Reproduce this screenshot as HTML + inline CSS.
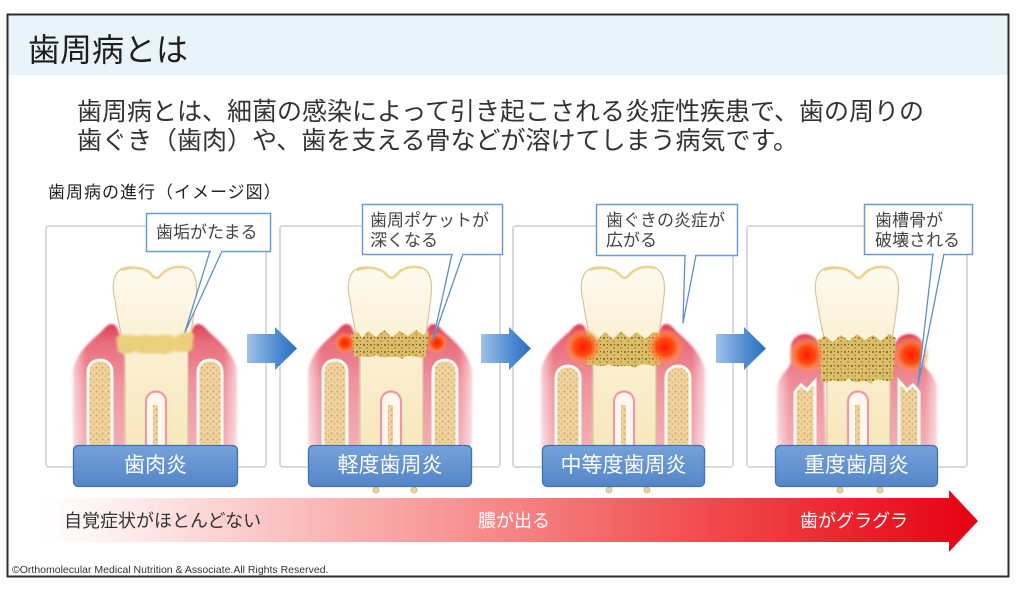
<!DOCTYPE html>
<html><head><meta charset="utf-8">
<style>
html,body{margin:0;padding:0;background:#fff;}
body{width:1024px;height:592px;position:relative;overflow:hidden;font-family:"Liberation Sans","Noto Sans CJK JP",sans-serif;}
.t{position:absolute;white-space:nowrap;font-family:"Liberation Sans","Noto Sans CJK JP",sans-serif;}
svg{position:absolute;left:0;top:0;}
</style></head><body>
<svg width="1024" height="592" viewBox="0 0 1024 592" xmlns="http://www.w3.org/2000/svg">
<defs>
  <linearGradient id="toothG" x1="0" y1="0" x2="0" y2="1">
    <stop offset="0" stop-color="#fffaf0"/><stop offset="0.45" stop-color="#faefd0"/><stop offset="1" stop-color="#f7e5b6"/>
  </linearGradient>
  <linearGradient id="gumG" x1="0" y1="0" x2="0" y2="1">
    <stop offset="0" stop-color="#de3f55"/><stop offset="0.12" stop-color="#e86c7c"/><stop offset="0.4" stop-color="#ef949e"/><stop offset="1" stop-color="#f4b8be"/>
  </linearGradient>
  <linearGradient id="gumFade" x1="0" y1="0" x2="1" y2="0">
    <stop offset="0" stop-color="#fff" stop-opacity="0.6"/><stop offset="0.25" stop-color="#fff" stop-opacity="0"/>
  </linearGradient>
  <pattern id="speck" width="6" height="6" patternUnits="userSpaceOnUse">
    <rect width="6" height="6" fill="#eed3a0"/>
    <circle cx="1.5" cy="1.5" r="1" fill="#d7a560"/><circle cx="4.5" cy="4" r="0.9" fill="#dcae6c"/>
  </pattern>
  <pattern id="tartar" width="7" height="7" patternUnits="userSpaceOnUse">
    <rect width="7" height="7" fill="#dcbd68"/>
    <circle cx="2" cy="2" r="1.1" fill="#8e6f30"/><circle cx="5" cy="5" r="0.9" fill="#a4843e"/><circle cx="5.5" cy="1.5" r="0.6" fill="#6f5524"/>
  </pattern>
  <radialGradient id="glow">
    <stop offset="0" stop-color="#ff1a00"/><stop offset="0.45" stop-color="#ff4a10"/><stop offset="0.75" stop-color="#ff8a40" stop-opacity="0.6"/><stop offset="1" stop-color="#ff9a60" stop-opacity="0"/>
  </radialGradient>
  <linearGradient id="arrowB" x1="0" y1="0" x2="1" y2="0">
    <stop offset="0" stop-color="#9fc2e8"/><stop offset="0.6" stop-color="#4f8bd0"/><stop offset="1" stop-color="#2a6fc0"/>
  </linearGradient>
  <linearGradient id="labelG" x1="0" y1="0" x2="0" y2="1">
    <stop offset="0" stop-color="#74a2da"/><stop offset="1" stop-color="#5585c8"/>
  </linearGradient>
  <linearGradient id="redG" x1="40" y1="0" x2="978" y2="0" gradientUnits="userSpaceOnUse">
    <stop offset="0" stop-color="#ffffff"/><stop offset="0.06" stop-color="#fff4f4"/><stop offset="0.2" stop-color="#fcd0d0"/><stop offset="0.45" stop-color="#f79292"/><stop offset="0.7" stop-color="#f14e50"/><stop offset="1" stop-color="#e60012"/>
  </linearGradient>
  <filter id="soft" x="-20%" y="-20%" width="140%" height="140%"><feGaussianBlur stdDeviation="1.1"/></filter>
  <filter id="soft2" x="-50%" y="-50%" width="200%" height="200%"><feGaussianBlur stdDeviation="1.2"/></filter>

  <path id="tooth" d="M-40,300 C-44,284 -41,271 -31,268 C-22,265 -10,268 -4,274 C-1,278 2,280 5,276 C10,269 20,265 30,267 C39,269 43,280 41,296 C39,316 36,334 33,350 L33,470 L-30,470 L-30,350 C-34,334 -38,316 -40,300 Z"/>
  <path id="gumA" d="M-82,470 L-82,372 C-80,355 -66,342 -54,332 C-49,326 -44,321 -39,326 C-35,332 -32,345 -30,360 L-30,470 Z"/>
  <path id="gumD" d="M-80,470 L-80,388 C-78,374 -68,370 -66,362 L-66,346 C-64,332 -44,329 -38,344 L-33,380 L-30,470 Z"/>
  <path id="bone" d="M-67,470 L-67,372 C-67,356 -43,356 -43,372 L-43,470 Z"/>
  <path id="boneD" d="M-62,470 L-62,392 L-56,385 L-50,390 L-42,381 L-42,470 Z"/>
  <g id="pulp">
    <path d="M-9,470 L-9,402 C-9,388 11,388 11,402 L11,470 Z" fill="#fff7ee" stroke="#e99aa2" stroke-width="2.2"/>
    <rect x="-2" y="405" width="5" height="65" fill="url(#speck)"/>
  </g>
</defs>

<!-- outer frame -->
<rect x="8" y="15" width="1000" height="561" fill="#fff"/>
<rect x="8" y="15" width="1000" height="60" fill="#e8f4fa"/>
<rect x="7.5" y="14.5" width="1001" height="562" fill="none" stroke="#2e2e2e" stroke-width="2"/>

<!-- panels -->
<rect x="46" y="226" width="220" height="241" rx="3" fill="#fff" stroke="#d9d9d9" stroke-width="2"/>
<rect x="280" y="226" width="220" height="241" rx="3" fill="#fff" stroke="#d9d9d9" stroke-width="2"/>
<rect x="513" y="226" width="220" height="241" rx="3" fill="#fff" stroke="#d9d9d9" stroke-width="2"/>
<rect x="747" y="226" width="220" height="241" rx="3" fill="#fff" stroke="#d9d9d9" stroke-width="2"/>

<!-- blue arrows -->
<g fill="url(#arrowB)">
  <path d="M247,334 L275,334 L275,327 L297,348.5 L275,370 L275,363 L247,363 Z"/>
  <path d="M481,334 L509,334 L509,327 L531,348.5 L509,370 L509,363 L481,363 Z"/>
  <path d="M716,334 L744,334 L744,327 L766,348.5 L744,370 L744,363 L716,363 Z"/>
</g>

<!-- Panel 1 -->
<g transform="translate(155,0)">
  <g filter="url(#soft)">
    <use href="#gumA" fill="url(#gumG)"/>
    <use href="#gumA" fill="url(#gumFade)"/>
    <g transform="scale(-1,1)"><use href="#gumA" fill="url(#gumG)"/><use href="#gumA" fill="url(#gumFade)"/></g>
  </g>
  <use href="#bone" fill="url(#speck)" stroke="#fffaf2" stroke-width="3"/>
  <g transform="scale(-1,1)"><use href="#bone" fill="url(#speck)" stroke="#fffaf2" stroke-width="3"/></g>
  <use href="#tooth" fill="url(#toothG)" stroke="#d8c49c" stroke-width="1.2"/>
  <path d="M-33,270 C-20,266 -10,268 -4,274 C0,279 3,279 6,275 C12,268 22,265 32,268" fill="none" stroke="#ecd48c" stroke-width="2.5"/>
  <use href="#pulp"/>
  <path d="M-39,337 C-30,331 -20,339 -10,334 C0,339 10,331 20,337 C28,332 35,330 39,334 L37,350 C30,355 20,348 10,355 C0,350 -10,357 -20,351 C-28,356 -34,353 -37,352 Z" fill="#ebcf7c" filter="url(#soft2)"/>
</g>

<!-- Panel 2 -->
<g transform="translate(390,0)">
  <g filter="url(#soft)">
    <use href="#gumA" fill="url(#gumG)"/>
    <use href="#gumA" fill="url(#gumFade)"/>
    <g transform="scale(-1,1)"><use href="#gumA" fill="url(#gumG)"/><use href="#gumA" fill="url(#gumFade)"/></g>
  </g>
  <use href="#bone" fill="url(#speck)" stroke="#fffaf2" stroke-width="3"/>
  <g transform="scale(-1,1)"><use href="#bone" fill="url(#speck)" stroke="#fffaf2" stroke-width="3"/></g>
  <use href="#tooth" fill="url(#toothG)" stroke="#d8c49c" stroke-width="1.2"/>
  <path d="M-33,270 C-20,266 -10,268 -4,274 C0,279 3,279 6,275 C12,268 22,265 32,268" fill="none" stroke="#ecd48c" stroke-width="2.5"/>
  <use href="#pulp"/>
  <path d="M-39,334 L-32,332 L-28,338 L-22,331 L-14,337 L-6,330 L2,337 L10,331 L18,336 L26,330 L33,335 L39,331 L36,357 C28,360 20,352 12,359 C4,353 -6,361 -14,355 C-22,360 -30,354 -36,357 Z" fill="url(#tartar)"/>
  <circle cx="-45" cy="343" r="11" fill="url(#glow)"/>
  <circle cx="47" cy="343" r="11" fill="url(#glow)"/>
</g>

<!-- Panel 3 -->
<g transform="translate(623,0)">
  <g filter="url(#soft)">
    <use href="#gumA" fill="url(#gumG)"/>
    <use href="#gumA" fill="url(#gumFade)"/>
    <g transform="scale(-1,1)"><use href="#gumA" fill="url(#gumG)"/><use href="#gumA" fill="url(#gumFade)"/></g>
  </g>
  <use href="#bone" fill="url(#speck)" stroke="#fffaf2" stroke-width="3" transform="translate(0,6)"/>
  <g transform="scale(-1,1) translate(0,6)"><use href="#bone" fill="url(#speck)" stroke="#fffaf2" stroke-width="3"/></g>
  <use href="#tooth" fill="url(#toothG)" stroke="#d8c49c" stroke-width="1.2"/>
  <path d="M-33,270 C-20,266 -10,268 -4,274 C0,279 3,279 6,275 C12,268 22,265 32,268" fill="none" stroke="#ecd48c" stroke-width="2.5"/>
  <use href="#pulp"/>
  <path d="M-39,336 L-32,333 L-26,340 L-18,332 L-10,339 L-2,331 L6,338 L14,332 L22,339 L30,332 L39,335 L37,365 C28,368 20,360 12,368 C4,362 -6,370 -14,364 C-22,369 -30,362 -37,366 Z" fill="url(#tartar)"/>
  <circle cx="-40" cy="347" r="19" fill="url(#glow)"/>
  <circle cx="42" cy="347" r="19" fill="url(#glow)"/>
</g>

<!-- Panel 4 -->
<g transform="translate(857,0)">
  <g filter="url(#soft)">
    <use href="#gumD" fill="url(#gumG)"/>
    <use href="#gumD" fill="url(#gumFade)"/>
    <g transform="scale(-1,1)"><use href="#gumD" fill="url(#gumG)"/><use href="#gumD" fill="url(#gumFade)"/></g>
  </g>
  <use href="#boneD" fill="url(#speck)" stroke="#fffaf2" stroke-width="3"/>
  <g transform="scale(-1,1)"><use href="#boneD" fill="url(#speck)" stroke="#fffaf2" stroke-width="3"/></g>
  <use href="#tooth" fill="url(#toothG)" stroke="#d8c49c" stroke-width="1.2"/>
  <path d="M-33,270 C-20,266 -10,268 -4,274 C0,279 3,279 6,275 C12,268 22,265 32,268" fill="none" stroke="#ecd48c" stroke-width="2.5"/>
  <use href="#pulp"/>
  <path d="M-39,340 L-32,336 L-24,342 L-16,335 L-8,341 L0,334 L8,340 L16,335 L24,341 L32,334 L39,338 L36,380 C28,384 20,374 14,384 C6,376 0,388 -8,378 C-16,386 -24,376 -30,383 L-36,380 Z" fill="url(#tartar)"/>
  <circle cx="-50" cy="355" r="19" fill="url(#glow)"/>
  <circle cx="54" cy="355" r="19" fill="url(#glow)"/>
</g>

<!-- root tips below labels -->
<g fill="#ead3a2" stroke="#cdb27a" stroke-width="0.8">
  <circle cx="376" cy="490" r="3"/><circle cx="414" cy="490" r="3"/>
  <circle cx="609" cy="490" r="3"/><circle cx="647" cy="490" r="3"/>
  <circle cx="840" cy="490" r="3"/><circle cx="880" cy="490" r="3"/>
</g>

<!-- callout pointers -->
<g fill="#fff" stroke="#5d90cc" stroke-width="1.3" stroke-linejoin="round">
  <path d="M210,251 L185,332 L222,251"/>
  <path d="M452,254 L433,340 L463,254"/>
  <path d="M685,255 L683,323 L696,255"/>
  <path d="M933,254 L918,385 L944,254"/>
</g>
<!-- callout boxes -->
<g fill="#fff" stroke="#6b9bd2" stroke-width="1.5">
  <rect x="146.5" y="213.5" width="124" height="38"/>
  <rect x="362.5" y="204.5" width="140" height="50"/>
  <rect x="596.5" y="204.5" width="141" height="51"/>
  <rect x="864.5" y="204.5" width="108" height="50"/>
</g>
<g fill="#fff">
  <rect x="211" y="249" width="10" height="4"/>
  <rect x="453" y="252" width="9" height="4"/>
  <rect x="686" y="253" width="9" height="4"/>
  <rect x="934" y="252" width="9" height="4"/>
</g>

<!-- stage labels -->
<g fill="url(#labelG)" stroke="#4372b2" stroke-width="1.3">
  <rect x="73.5" y="445.5" width="164" height="41" rx="5"/>
  <rect x="308.5" y="445.5" width="163" height="41" rx="5"/>
  <rect x="542.5" y="445.5" width="162" height="41" rx="5"/>
  <rect x="775.5" y="445.5" width="162" height="41" rx="5"/>
</g>

<!-- red progress arrow -->
<path d="M40,498 L949,498 L949,490 L978,521 L949,552 L949,542 L40,542 Z" fill="url(#redG)"/>
</svg>

<div class="t" style="left:28px;top:33px;font-size:32px;line-height:34px;color:#1e1e1e;">歯周病とは</div>
<div class="t" style="left:77px;top:98px;font-size:25px;line-height:29px;color:#333;">歯周病とは、細菌の感染によって引き起こされる炎症性疾患で、歯の周りの<br>歯ぐき（歯肉）や、歯を支える骨などが溶けてしまう病気です。</div>
<div class="t" style="left:48px;top:183px;font-size:17px;line-height:20px;letter-spacing:1px;color:#222;">歯周病の進行（イメージ図）</div>

<div class="t" style="left:156px;top:222px;font-size:17px;line-height:22px;color:#444;">歯垢がたまる</div>
<div class="t" style="left:370px;top:211px;font-size:17px;line-height:20px;color:#444;">歯周ポケットが<br>深くなる</div>
<div class="t" style="left:606px;top:211px;font-size:17px;line-height:20px;color:#444;">歯ぐきの炎症が<br>広がる</div>
<div class="t" style="left:875px;top:211px;font-size:17px;line-height:20px;color:#444;">歯槽骨が<br>破壊される</div>

<div class="t" style="left:73px;width:165px;top:455px;text-align:center;font-size:21px;line-height:22px;color:#fff;">歯肉炎</div>
<div class="t" style="left:308px;width:164px;top:455px;text-align:center;font-size:21px;line-height:22px;color:#fff;">軽度歯周炎</div>
<div class="t" style="left:542px;width:163px;top:455px;text-align:center;font-size:21px;line-height:22px;color:#fff;">中等度歯周炎</div>
<div class="t" style="left:775px;width:163px;top:455px;text-align:center;font-size:21px;line-height:22px;color:#fff;">重度歯周炎</div>

<div class="t" style="left:64px;top:510px;font-size:18px;line-height:22px;color:#333;">自覚症状がほとんどない</div>
<div class="t" style="left:478px;top:510px;font-size:18px;line-height:22px;color:#fff;">膿が出る</div>
<div class="t" style="left:800px;top:510px;font-size:18px;line-height:22px;color:#fff;">歯がグラグラ</div>

<div class="t" style="left:12px;top:564px;font-size:10.5px;line-height:13px;color:#333;">©Orthomolecular Medical Nutrition &amp; Associate.All Rights Reserved.</div>
</body></html>
